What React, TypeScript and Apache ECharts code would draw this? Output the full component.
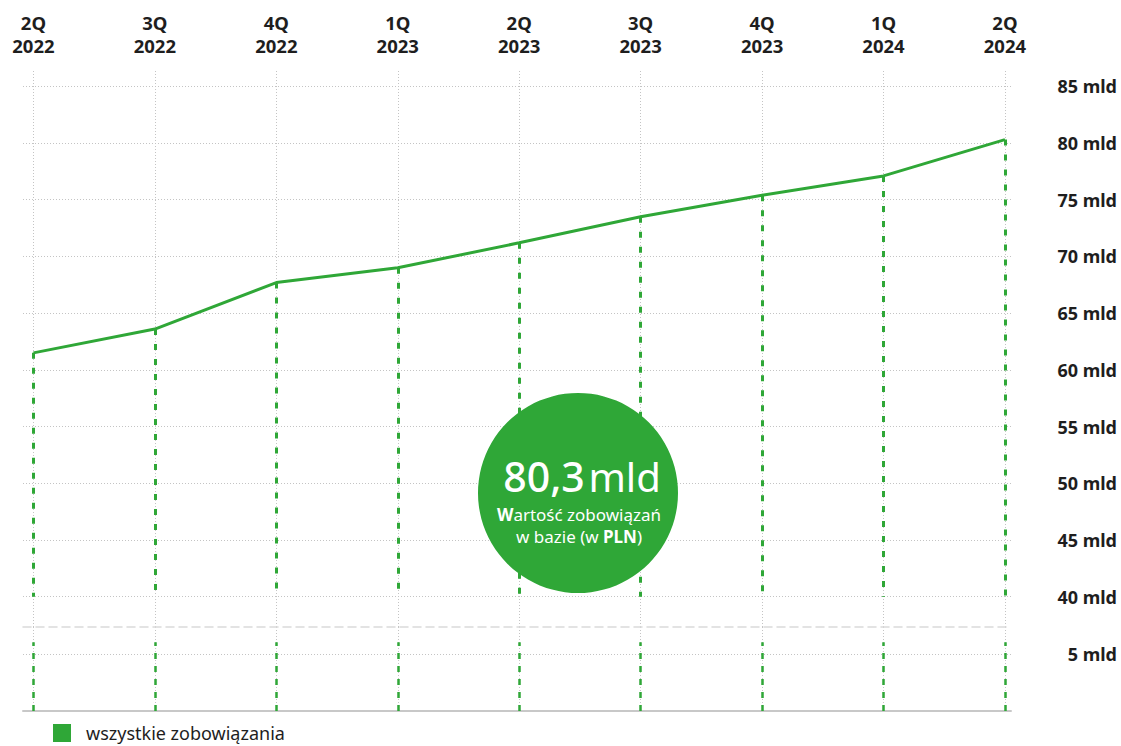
import React, { useEffect, useRef } from "react";
import * as echarts from "echarts";

const quarters = ["2Q 2022", "3Q 2022", "4Q 2022", "1Q 2023", "2Q 2023", "3Q 2023", "4Q 2023", "1Q 2024", "2Q 2024"];
const totalLiabilities = [61.5, 63.6, 67.7, 69.0, 71.2, 73.5, 75.4, 77.1, 80.3];
const upperAxisFloor = 40; // lowest labelled value above the axis break
const lowerStubTop = 6; // height of the dashed stubs below the break
const seriesName = "wszystkie zobowiązania";
const headline = "80,3";

const GREEN = "#2fa737";
const FONT = "Noto Sans";
const TEXT = "#1e1e1e";
const GRID_LINE = { color: "#c4c4c4", width: 1, type: [1, 2] as number[] };

const X_MIN = -0.086;
const X_MAX = 8.05;

export default function App() {
  const ref = useRef<HTMLDivElement>(null);

  useEffect(() => {
    if (!ref.current) return;
    const chart = echarts.init(ref.current, null, { renderer: "svg" });

    const xBase = {
      type: "value" as const,
      min: X_MIN,
      max: X_MAX,
      splitNumber: 8,
      axisTick: { show: false },
    };

    const yLabel = {
      showMinLabel: false,
      showMaxLabel: false,
      align: "right",
      margin: 106,
      fontFamily: FONT,
      fontWeight: "bold",
      fontSize: 18,
      color: TEXT,
      formatter: (v: number) => `${v} mld`,
    };

    const option: any = {
      animation: false,
      backgroundColor: "#fff",
      textStyle: { fontFamily: FONT },
      grid: [
        { left: 23, right: 110, top: 71, bottom: 119, containLabel: false },
        { left: 23, right: 110, top: 627, bottom: 35, containLabel: false },
      ],
      xAxis: [
        {
          ...xBase,
          gridIndex: 0,
          position: "top",
          axisLine: { show: false },
          axisLabel: {
            show: true,
            showMinLabel: false,
            showMaxLabel: false,
            margin: 14,
            fontFamily: FONT,
            fontWeight: "bold",
            fontSize: 18.5,
            lineHeight: 23,
            color: TEXT,
            formatter: (v: number) => {
              if (!Number.isInteger(v)) return "";
              const q = quarters[v];
              return q ? q.replace(" ", "\n") : "";
            },
          },
          splitLine: { show: true, showMinLine: false, showMaxLine: false, lineStyle: GRID_LINE },
        },
        {
          ...xBase,
          gridIndex: 1,
          position: "bottom",
          axisLine: { show: true, lineStyle: { color: "#c8c8c8", width: 2 } },
          axisLabel: { show: false },
          splitLine: { show: true, showMinLine: false, showMaxLine: false, lineStyle: GRID_LINE },
        },
        {
          ...xBase,
          gridIndex: 1,
          position: "top",
          axisLine: { show: true, lineStyle: { color: "#dadada", width: 1.5, type: [8, 5] } },
          axisLabel: { show: false },
          splitLine: { show: false },
        },
      ],
      yAxis: [
        {
          type: "value",
          gridIndex: 0,
          position: "right",
          min: 37.33,
          max: 86.35,
          splitNumber: 10,
          axisLine: { show: false },
          axisTick: { show: false },
          axisLabel: yLabel,
          splitLine: { show: true, showMinLine: false, showMaxLine: false, lineStyle: GRID_LINE },
        },
        {
          type: "value",
          gridIndex: 1,
          position: "right",
          min: 0,
          max: 7.34,
          interval: 5,
          axisLine: { show: false },
          axisTick: { show: false },
          axisLabel: yLabel,
          splitLine: { show: true, showMinLine: false, showMaxLine: false, lineStyle: GRID_LINE },
        },
      ],
      legend: {
        show: true,
        left: 53,
        top: 724,
        padding: 0,
        icon: "rect",
        itemWidth: 18,
        itemHeight: 18,
        data: [seriesName],
        textStyle: { fontFamily: FONT, fontSize: 18, lineHeight: 18, color: TEXT, padding: [0, 0, 0, 10] },
      },
      series: [
        {
          name: seriesName,
          type: "line",
          xAxisIndex: 0,
          yAxisIndex: 0,
          data: totalLiabilities.map((v, i) => [i, v]),
          showSymbol: false,
          symbol: "none",
          color: GREEN,
          lineStyle: { color: GREEN, width: 3 },
          z: 5,
          markLine: {
            silent: true,
            symbol: ["none", "none"],
            label: { show: false },
            lineStyle: { color: GREEN, width: 3, type: [6, 9] },
            emphasis: { disabled: true },
            data: totalLiabilities.map((v, i) => [
              { coord: [i, v] },
              { coord: [i, upperAxisFloor] },
            ]),
          },
        },
        {
          name: "stubs",
          type: "line",
          xAxisIndex: 1,
          yAxisIndex: 1,
          data: [],
          color: GREEN,
          markLine: {
            silent: true,
            symbol: ["none", "none"],
            label: { show: false },
            lineStyle: { color: GREEN, width: 2.5, type: [6, 7] },
            emphasis: { disabled: true },
            data: quarters.map((_, i) => [
              { coord: [i, 0] },
              { coord: [i, lowerStubTop] },
            ]),
          },
        },
      ],
      graphic: [
        {
          type: "circle",
          z: 100,
          shape: { cx: 578, cy: 493, r: 100 },
          style: { fill: GREEN },
        },
        {
          type: "text",
          z: 101,
          x: 582,
          y: 476,
          style: {
            text: `{a|${headline}}{s| }{b|mld}`,
            align: "center",
            verticalAlign: "middle",
            fill: "#fff",
            rich: {
              a: { fontFamily: FONT, fontSize: 41, lineHeight: 40, fontWeight: 500, fill: "#fff", color: "#fff" },
              s: { fontFamily: FONT, fontSize: 14, lineHeight: 40, fill: "#fff", color: "#fff" },
              b: { fontFamily: FONT, fontSize: 40, lineHeight: 40, fontWeight: 400, fill: "#fff", color: "#fff" },
            },
          },
        },
        {
          type: "text",
          z: 101,
          x: 579,
          y: 514,
          style: {
            text: "{b|W}{r|artość zobowiązań}",
            align: "center",
            verticalAlign: "middle",
            fill: "#fff",
            rich: {
              b: { fontFamily: FONT, fontSize: 17, lineHeight: 18, fontWeight: "bold", fill: "#fff", color: "#fff" },
              r: { fontFamily: FONT, fontSize: 17, lineHeight: 18, fontWeight: 400, fill: "#fff", color: "#fff" },
            },
          },
        },
        {
          type: "text",
          z: 101,
          x: 579,
          y: 536,
          style: {
            text: "{r|w bazie (w }{b|PLN}{r|)}",
            align: "center",
            verticalAlign: "middle",
            fill: "#fff",
            rich: {
              b: { fontFamily: FONT, fontSize: 17, lineHeight: 18, fontWeight: "bold", fill: "#fff", color: "#fff" },
              r: { fontFamily: FONT, fontSize: 17, lineHeight: 18, fontWeight: 400, fill: "#fff", color: "#fff" },
            },
          },
        },
      ],
    };

    chart.setOption(option);
    return () => chart.dispose();
  }, []);

  return (
    <div
      ref={ref}
      style={{ position: "fixed", left: 0, top: 0, width: 1121, height: 746, background: "#fff" }}
    />
  );
}
